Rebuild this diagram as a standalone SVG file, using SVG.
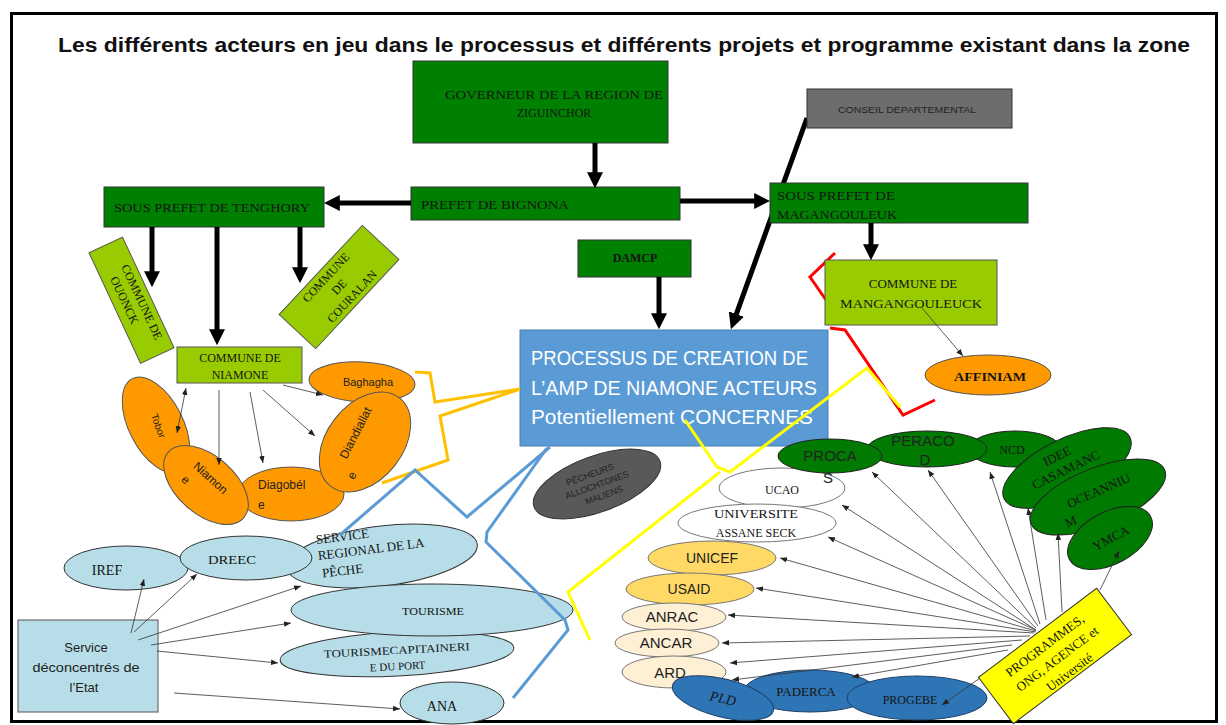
<svg xmlns="http://www.w3.org/2000/svg" width="1226" height="725" viewBox="0 0 1226 725">
<style>
.dg{fill:#008000;stroke:#333;stroke-width:1}
.lime{fill:#99cc00;stroke:#555;stroke-width:1}
.or{fill:#ff9900;stroke:#555;stroke-width:1}
.lb{fill:#b7dde8;stroke:#333;stroke-width:1}
.gr{fill:#007a00;stroke:#222;stroke-width:1}
.wh{fill:#ffffff;stroke:#777;stroke-width:1}
.yl{fill:#ffd966;stroke:#777;stroke-width:1}
.cr{fill:#fdf0d4;stroke:#777;stroke-width:1}
.bl{fill:#2e75b6;stroke:#1f3f66;stroke-width:1}
.serif{font-family:"Liberation Serif","DejaVu Serif",serif;fill:#141414}
.sans{font-family:"Liberation Sans","DejaVu Sans",sans-serif;fill:#222}
.mid{text-anchor:middle}
.thick{stroke:#000;stroke-width:5;fill:none;marker-end:url(#ah)}
.thin{stroke:#333;stroke-width:0.8;fill:none;marker-end:url(#ahs)}
.band{fill:none;stroke-width:3;stroke-linejoin:miter}
</style>
<defs>
<marker id="ah" viewBox="0 0 10 10" refX="3" refY="5" markerWidth="16" markerHeight="16" markerUnits="userSpaceOnUse" orient="auto"><path d="M0,0 L10,5 L0,10 z" fill="#000"/></marker>
<marker id="ahs" viewBox="0 0 10 10" refX="10" refY="5" markerWidth="7" markerHeight="7" markerUnits="userSpaceOnUse" orient="auto-start-reverse"><path d="M0,1 L10,5 L0,9 z" fill="#222"/></marker>
</defs>
<rect x="0" y="0" width="1226" height="725" fill="#ffffff"/>
<rect x="11.5" y="13.5" width="1205" height="708" fill="none" stroke="#000" stroke-width="3"/>
<text x="58" y="52" font-family="'Liberation Sans','DejaVu Sans',sans-serif" font-weight="bold" font-size="20" fill="#111" textLength="1132" lengthAdjust="spacingAndGlyphs">Les différents acteurs en jeu dans le processus et différents projets et programme existant dans la zone</text>

<g id="connectors-back">
<line class="thick" x1="807" y1="118" x2="734.7" y2="318.6" stroke-width="6"/>
<polyline class="band" stroke="#ff0000" points="835,253 810,277 826,300"/>
</g>

<g id="gouverneur"><rect class="dg" x="413" y="61" width="255" height="82"/>
<text class="serif mid" font-size="12" x="554" y="99" textLength="218" lengthAdjust="spacingAndGlyphs">GOVERNEUR  DE LA REGION DE</text>
<text class="serif mid" font-size="12" x="554" y="117">ZIGUINCHOR</text></g>
<g id="prefet"><rect class="dg" x="411" y="187" width="269" height="33"/>
<text class="serif" font-size="12" x="421" y="209" textLength="148" lengthAdjust="spacingAndGlyphs">PREFET DE BIGNONA</text></g>
<g id="sp-tenghory"><rect class="dg" x="104" y="187" width="220" height="40"/>
<text class="serif mid" font-size="12" x="212" y="212" textLength="196" lengthAdjust="spacingAndGlyphs">SOUS PREFET DE TENGHORY</text></g>
<g id="sp-magangouleuk"><rect class="dg" x="770" y="183" width="258" height="40"/>
<text class="serif" font-size="13" x="777" y="200" textLength="118" lengthAdjust="spacingAndGlyphs">SOUS PREFET DE</text>
<text class="serif" font-size="13" x="777" y="219" textLength="120" lengthAdjust="spacingAndGlyphs">MAGANGOULEUK</text></g>
<g id="conseil"><rect x="807" y="89" width="205" height="39" fill="#6d6d6d" stroke="#333" stroke-width="1"/>
<text class="sans mid" font-size="9.5" x="907" y="113" textLength="138" lengthAdjust="spacingAndGlyphs" fill="#1a1a1a">CONSEIL DEPARTEMENTAL</text></g>
<g id="damcp"><rect class="dg" x="578" y="240" width="113" height="37"/>
<text class="serif mid" font-size="12" font-weight="bold" x="635" y="262">DAMCP</text></g>
<g id="processus"><rect x="520" y="330" width="308" height="116" fill="#5b9bd5" stroke="#4a7fb0" stroke-width="1"/>
<text class="sans" font-size="20" style="fill:#ffffff" x="531" y="365" textLength="277" lengthAdjust="spacingAndGlyphs">PROCESSUS DE CREATION DE</text>
<text class="sans" font-size="20" style="fill:#ffffff" x="531" y="395" textLength="286" lengthAdjust="spacingAndGlyphs">L’AMP DE NIAMONE ACTEURS</text>
<text class="sans" font-size="20" style="fill:#ffffff" x="531" y="424" textLength="282" lengthAdjust="spacingAndGlyphs">Potentiellement CONCERNES</text></g>
<g id="commune-mangangouleuck"><rect class="lime" x="825" y="260" width="172" height="65"/>
<text class="serif mid" font-size="13" x="913" y="288">COMMUNE DE</text>
<text class="serif mid" font-size="13" x="911" y="308" textLength="142" lengthAdjust="spacingAndGlyphs">MANGANGOULEUCK</text></g>
<g id="affiniam"><ellipse class="or" cx="988" cy="375" rx="63" ry="20"/>
<text class="serif mid" font-size="13" font-weight="bold" x="990" y="381" textLength="72" lengthAdjust="spacingAndGlyphs">AFFINIAM</text></g>

<g id="commune-ouonck" transform="translate(132,300) rotate(65)"><rect class="lime" x="-61" y="-18" width="122" height="37"/>
<text class="serif mid" font-size="12" x="6" y="-4">COMMUNE DE</text>
<text class="serif mid" font-size="12" x="-3" y="11">OUONCK</text></g>
<g id="commune-couralan" transform="translate(339,287) rotate(-47)"><rect class="lime" x="-61" y="-25" width="122" height="50"/>
<text class="serif mid" font-size="12" x="-2" y="-12">COMMUNE</text>
<text class="serif mid" font-size="12" x="0" y="4">DE</text>
<text class="serif mid" font-size="12" x="2" y="20">COURALAN</text></g>
<g id="commune-niamone"><rect class="lime" x="177" y="347" width="125" height="36"/>
<text class="serif mid" font-size="12" x="240" y="362">COMMUNE DE</text>
<text class="serif mid" font-size="12" x="240" y="379">NIAMONE</text></g>

<g id="tobor"><ellipse class="or" cx="156" cy="425" rx="52" ry="27" transform="rotate(63 156 425)"/>
<text class="sans mid" font-size="10" x="0" y="0" transform="translate(155,427) rotate(70)">Tobor</text></g>
<g id="diagobele"><ellipse class="or" cx="291" cy="494" rx="53" ry="27"/>
<text class="sans" font-size="12" x="258" y="489">Diagobél</text>
<text class="sans" font-size="12" x="258" y="509">e</text></g>
<g id="niamone"><ellipse class="or" cx="206" cy="485" rx="50" ry="29" transform="rotate(41 206 485)"/>
<g transform="translate(206,482) rotate(42)"><text class="sans" font-size="12" x="-20" y="-2">Niamon</text><text class="sans" font-size="12" x="-20" y="16">e</text></g></g>
<g id="baghagha"><ellipse class="or" cx="362" cy="382" rx="53" ry="20" transform="rotate(3 362 382)"/>
<text class="sans mid" font-size="11" x="368" y="386">Baghagha</text></g>
<g id="diandiallate"><ellipse class="or" cx="365" cy="442" rx="56" ry="38" transform="rotate(-52 365 442)"/>
<g transform="translate(352,440) rotate(-63)"><text class="sans mid" font-size="12" x="8" y="4">Diandiallat</text><text class="sans" font-size="12" x="-35" y="20">e</text></g></g>

<g id="pecheurs"><ellipse cx="597" cy="484" rx="67" ry="28" fill="#595959" stroke="#333" stroke-width="1" transform="rotate(-20 597 484)"/>
<g transform="translate(597,485) rotate(-20)"><text class="sans mid" font-size="9" x="-3" y="-9" fill="#1a1a1a">PÊCHEURS</text><text class="sans mid" font-size="9" x="0" y="3">ALLOCHTONES</text><text class="sans mid" font-size="9" x="3" y="15">MALIENS</text></g></g>

<g id="service-etat"><rect x="18" y="620" width="140" height="92" fill="#b7dde8" stroke="#555" stroke-width="1"/>
<text class="sans mid" font-size="13" x="86" y="652" fill="#333">Service</text>
<text class="sans mid" font-size="13" x="86" y="672" textLength="107" lengthAdjust="spacingAndGlyphs">déconcentrés de</text>
<text class="sans mid" font-size="13" x="84" y="692">l’Etat</text></g>
<g id="iref"><ellipse class="lb" cx="126" cy="568" rx="62" ry="22"/>
<text class="serif mid" font-size="14" x="107" y="575">IREF</text></g>
<g id="srp"><ellipse class="lb" cx="382" cy="556" rx="96" ry="30" transform="rotate(-7 382 556)"/>
<g transform="translate(318,556) rotate(-7)"><text class="serif" font-size="13" x="0" y="-12">SERVICE</text><text class="serif" font-size="13" x="0" y="4">REGIONAL DE LA</text><text class="serif" font-size="13" x="2" y="22">PÊCHE</text></g></g>
<g id="dreec"><ellipse class="lb" cx="246" cy="558" rx="66" ry="22"/>
<text class="serif mid" font-size="13" x="232" y="564" textLength="48" lengthAdjust="spacingAndGlyphs">DREEC</text></g>
<g id="tcp"><ellipse class="lb" cx="397" cy="654" rx="117" ry="22" transform="rotate(-3 397 654)"/>
<text class="serif mid" font-size="11" x="397" y="654" textLength="146" lengthAdjust="spacingAndGlyphs" transform="rotate(-3 397 654)">TOURISMECAPITAINERI</text>
<text class="serif mid" font-size="11" x="397" y="670" transform="rotate(-3 397 654)">E DU PORT</text></g>
<g id="tourisme"><ellipse class="lb" cx="432" cy="610" rx="141" ry="26"/>
<text class="serif mid" font-size="10" x="433" y="615" textLength="62" lengthAdjust="spacingAndGlyphs">TOURISME</text></g>
<g id="ana"><ellipse class="lb" cx="452" cy="703" rx="52" ry="21"/>
<text class="serif mid" font-size="14" x="442" y="711">ANA</text></g>

<g id="ucao"><ellipse class="wh" cx="782" cy="488" rx="63" ry="20"/>
<text class="serif mid" font-size="12" x="782" y="494">UCAO</text></g>
<g id="ncd"><ellipse class="gr" cx="1015" cy="449" rx="46" ry="18"/>
<text class="serif mid" font-size="12" x="1012" y="454">NCD</text></g>
<g id="peracod"><ellipse class="gr" cx="927" cy="449" rx="60" ry="18"/>
<text class="sans mid" font-size="15" x="923" y="446" fill="#111">PERACO</text>
<text class="sans mid" font-size="15" x="925" y="465" fill="#111">D</text></g>
<g id="procas"><ellipse class="gr" cx="830" cy="456" rx="52" ry="17"/>
<text class="sans mid" font-size="15" x="830" y="461" fill="#111">PROCA</text>
<text class="sans mid" font-size="15" x="828" y="483" fill="#111">S</text></g>
<g id="idee"><ellipse class="gr" cx="1067" cy="468" rx="70" ry="29" transform="rotate(-26 1067 468)"/>
<g transform="translate(1066,470) rotate(-26)"><text class="serif mid" font-size="13" x="-2" y="-12">IDEE</text><text class="serif mid" font-size="13" x="0" y="4">CASAMANC</text><text class="serif mid" font-size="13" x="0" y="20">E</text></g></g>
<g id="oceannium"><ellipse class="gr" cx="1098" cy="497" rx="72" ry="29" transform="rotate(-22 1098 497)"/>
<g transform="translate(1098,499) rotate(-24)"><text class="serif mid" font-size="13" x="4" y="-3">OCEANNIU</text><text class="serif" font-size="13" x="-40" y="14">M</text></g></g>
<g id="ymca"><ellipse class="gr" cx="1110" cy="538" rx="46" ry="26" transform="rotate(-28 1110 538)"/>
<text class="serif mid" font-size="13" x="1113" y="542" transform="rotate(-28 1113 542)">YMCA</text></g>

<g id="universite"><ellipse class="wh" cx="757" cy="523" rx="79" ry="19"/>
<text class="serif mid" font-size="12" x="756" y="518" textLength="84" lengthAdjust="spacingAndGlyphs">UNIVERSITE</text>
<text class="serif mid" font-size="12" x="756" y="537">ASSANE SECK</text></g>
<g id="unicef"><ellipse class="yl" cx="712" cy="558" rx="64" ry="17"/>
<text class="sans mid" font-size="14" x="712" y="563">UNICEF</text></g>
<g id="usaid"><ellipse class="yl" cx="690" cy="589" rx="64" ry="16"/>
<text class="sans mid" font-size="14" x="689" y="594">USAID</text></g>
<g id="anrac"><ellipse class="cr" cx="674" cy="617" rx="52" ry="14"/>
<text class="sans mid" font-size="15" x="672" y="622">ANRAC</text></g>
<g id="ancar"><ellipse class="cr" cx="667" cy="643" rx="52" ry="14"/>
<text class="sans mid" font-size="15" x="666" y="648">ANCAR</text></g>
<g id="ard"><ellipse class="cr" cx="674" cy="672" rx="52" ry="16"/>
<text class="sans mid" font-size="15" x="670" y="678">ARD</text></g>
<g id="paderca"><ellipse class="bl" cx="810" cy="691" rx="66" ry="21"/>
<text class="serif mid" font-size="13" x="806" y="696" fill="#0b1a33">PADERCA</text></g>
<g id="pld"><ellipse class="bl" cx="723" cy="698" rx="52" ry="19" transform="rotate(14 723 698)"/>
<text class="serif mid" font-size="14" font-style="italic" x="722" y="703" transform="rotate(12 722 703)" fill="#0b1a33">PLD</text></g>
<g id="progebe"><ellipse class="bl" cx="917" cy="698" rx="70" ry="22"/>
<text class="serif mid" font-size="12" x="910" y="704" fill="#0b1a33">PROGEBE</text></g>
<g id="programmes" transform="translate(1055,656) rotate(-37)"><rect x="-74" y="-29" width="148" height="58" fill="#ffff00" stroke="#333" stroke-width="1"/>
<text class="serif mid" font-size="13" x="-2" y="-10">PROGRAMMES,</text>
<text class="serif mid" font-size="13" x="0" y="8">ONG, AGENCE et</text>
<text class="serif mid" font-size="13" x="2" y="26">Université</text></g>

<g id="connectors">
<line class="thick" x1="595" y1="143" x2="595" y2="177" stroke-width="6"/>
<line class="thick" x1="411" y1="203" x2="335" y2="203"/>
<line class="thick" x1="680" y1="201" x2="759" y2="201"/>
<line class="thick" x1="152" y1="227" x2="152" y2="276"/>
<line class="thick" x1="217" y1="227" x2="217" y2="334"/>
<line class="thick" x1="300" y1="227" x2="300" y2="272"/>
<line class="thick" x1="871" y1="223" x2="871" y2="249"/>
<line class="thick" x1="659" y1="277" x2="659" y2="318"/>
<line class="thin" x1="186" y1="388" x2="177" y2="433" marker-start="url(#ahs)"/>
<line class="thin" x1="219" y1="390" x2="219" y2="465"/>
<line class="thin" x1="250" y1="392" x2="263" y2="463"/>
<line class="thin" x1="263" y1="390" x2="315" y2="436"/>
<line class="thin" x1="283" y1="385" x2="323" y2="395"/>
<line class="thin" x1="922" y1="308" x2="963" y2="356"/>
<line class="thin" x1="131" y1="633" x2="144" y2="579"/>
<line class="thin" x1="134" y1="632" x2="197" y2="574"/>
<line class="thin" x1="138" y1="640" x2="301" y2="586"/>
<line class="thin" x1="151" y1="645" x2="291" y2="623"/>
<line class="thin" x1="157" y1="651" x2="278" y2="663"/>
<line class="thin" x1="174" y1="693" x2="400" y2="709"/>
<line class="thin" x1="1036" y1="628" x2="872" y2="472"/>
<line class="thin" x1="1038" y1="626" x2="928" y2="470"/>
<line class="thin" x1="1040" y1="624" x2="990" y2="472"/>
<line class="thin" x1="1046" y1="620" x2="1028" y2="508"/>
<line class="thin" x1="1062" y1="612" x2="1058" y2="533"/>
<line class="thin" x1="1100" y1="590" x2="1119" y2="551"/>
<line class="thin" x1="1036" y1="630" x2="842" y2="505"/>
<line class="thin" x1="1036" y1="630" x2="828" y2="537"/>
<line class="thin" x1="1036" y1="631" x2="780" y2="558"/>
<line class="thin" x1="1036" y1="632" x2="756" y2="588"/>
<line class="thin" x1="1034" y1="633" x2="728" y2="615"/>
<line class="thin" x1="1030" y1="636" x2="722" y2="643"/>
<line class="thin" x1="1022" y1="640" x2="730" y2="663"/>
<line class="thin" x1="1012" y1="645" x2="732" y2="680"/>
<line class="thin" x1="1008" y1="650" x2="852" y2="677"/>
<line class="thin" x1="980" y1="678" x2="942" y2="705"/>
<polyline class="band" stroke="#ffc000" points="415,372 430,373 435,402 520,389"/>
<polyline class="band" stroke="#ffc000" points="520,389 440,416 448,460 382,483"/>
<polyline class="band" stroke="#5b9bd5" points="550,447 467,517 415,470 340,535"/>
<polyline class="band" stroke="#5b9bd5" points="547,448 487,532 486,542 565,620 568,630 513,698"/>
<polyline class="band" stroke="#ff0000" points="830,328 845,330 903,415 935,400"/>
<polyline class="band" stroke="#ffff00" points="685,420 717,467 730,472 867,368 900,407"/>
<polyline class="band" stroke="#ffff00" points="720,472 568,592 590,640"/>
</g>
</svg>
